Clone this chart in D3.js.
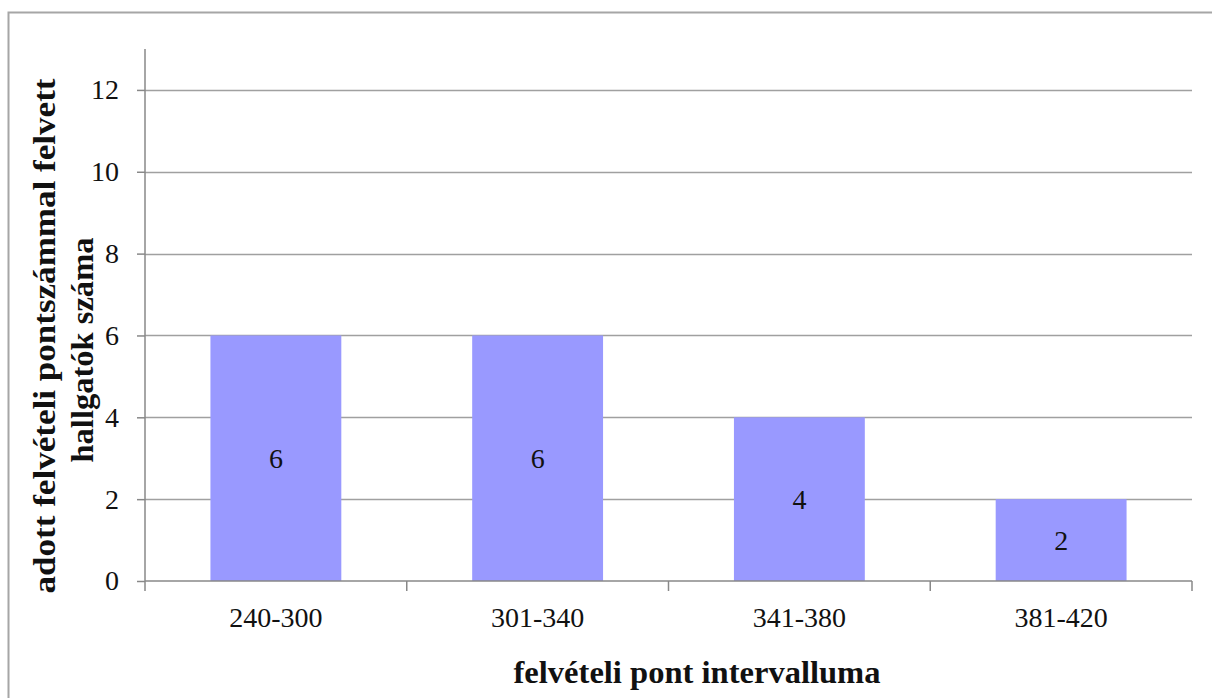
<!DOCTYPE html>
<html>
<head>
<meta charset="utf-8">
<script src="https://cdn.jsdelivr.net/npm/d3@7"></script>
<style>
  body { margin: 0; background: #fff; }
  text { font-family: "Liberation Serif", "Times New Roman", serif; }
</style>
</head>
<body>
<svg id="chart" width="1212" height="698"></svg>
<script>
// chart values
var categories = ["240-300", "301-340", "341-380", "381-420"];
var counts = [6, 6, 4, 2];
var yTicks = [0, 2, 4, 6, 8, 10, 12];
var xTitle = "felvételi pont intervalluma";
var yTitle = ["adott felvételi pontszámmal felvett", "hallgatók száma"];

var svg = d3.select("#chart");

// outer frame (right and bottom run off the picture)
svg.append("rect")
    .attr("x", 8.5).attr("y", 12.5)
    .attr("width", 1220).attr("height", 720)
    .attr("fill", "none")
    .attr("stroke", "#a6a6a6")
    .attr("stroke-width", 2);

var plotLeft = 145, plotRight = 1192, plotTop = 49, plotBottom = 581;

var x = d3.scaleBand()
    .domain(categories)
    .range([plotLeft, plotRight])
    .paddingInner(0.5)
    .paddingOuter(0.25);

var y = d3.scaleLinear()
    .domain([0, 13])
    .range([plotBottom, plotTop]);

/* gridlines */
svg.append("g").selectAll("line")
    .data(yTicks.filter(function(d) { return d > 0; }))
    .enter().append("line")
    .attr("x1", plotLeft).attr("x2", plotRight)
    .attr("y1", function(d) { return Math.round(y(d)) + 0.5; })
    .attr("y2", function(d) { return Math.round(y(d)) + 0.5; })
    .attr("stroke", "#a0a0a0")
    .attr("stroke-width", 1.5);

// bars
svg.append("g").selectAll("rect")
    .data(counts)
    .enter().append("rect")
    .attr("x", function(d, i) { return x(categories[i]); })
    .attr("y", function(d) { return y(d); })
    .attr("width", x.bandwidth())
    .attr("height", function(d) { return y(0) - y(d); })
    .attr("fill", "#9999ff");

svg.append("g").selectAll("text")
    .data(counts)
    .enter().append("text")
    .attr("x", function(d, i) { return x(categories[i]) + x.bandwidth() / 2; })
    .attr("y", function(d) { return (y(d) + y(0)) / 2; })
    .attr("dy", "0.35em")
    .attr("text-anchor", "middle")
    .attr("font-size", 28)
    .attr("fill", "#111")
    .text(function(d) { return d; });

// y axis
var yAxis = svg.append("g")
    .attr("transform", "translate(" + plotLeft + ",0)")
    .call(d3.axisLeft(y).tickValues(yTicks).tickSize(8).tickPadding(18));
yAxis.select(".domain").attr("d", "M0," + plotTop + "V" + plotBottom);

// x axis with ticks between categories
var xAxis = svg.append("g")
    .attr("transform", "translate(0," + plotBottom + ")");
xAxis.append("line")
    .attr("x1", plotLeft).attr("x2", plotRight)
    .attr("stroke", "#888").attr("stroke-width", 1.5);
xAxis.selectAll(".tk")
    .data(d3.range(categories.length + 1))
    .enter().append("line")
    .attr("x1", function(i) { return plotLeft + i * x.step(); })
    .attr("x2", function(i) { return plotLeft + i * x.step(); })
    .attr("y1", 0).attr("y2", 10)
    .attr("stroke", "#888").attr("stroke-width", 1.5);
xAxis.selectAll(".lbl")
    .data(categories)
    .enter().append("text")
    .attr("x", function(d) { return x(d) + x.bandwidth() / 2; })
    .attr("y", 46)
    .attr("text-anchor", "middle")
    .attr("font-size", 28)
    .attr("fill", "#111")
    .text(function(d) { return d; });

yAxis.select(".domain").attr("stroke", "#888").attr("stroke-width", 1.5);
yAxis.selectAll(".tick line").attr("stroke", "#888").attr("stroke-width", 1.5);
yAxis.selectAll(".tick text")
    .attr("font-size", 28)
    .attr("font-family", "Liberation Serif, serif")
    .attr("fill", "#111");

// axis titles
svg.append("text")
    .attr("x", 697).attr("y", 683)
    .attr("text-anchor", "middle")
    .attr("font-size", 32)
    .attr("font-weight", "bold")
    .attr("fill", "#111")
    .attr("textLength", 367)
    .attr("lengthAdjust", "spacingAndGlyphs")
    .text(xTitle);

var yTitleLen = [515, 225];
svg.append("g").selectAll("text")
    .data(yTitle)
    .enter().append("text")
    .attr("transform", function(d, i) {
        return "translate(" + (i === 0 ? 55 : 93) + "," + (i === 0 ? 336 : 350) + ") rotate(-90)";
    })
    .attr("text-anchor", "middle")
    .attr("font-size", 32)
    .attr("font-weight", "bold")
    .attr("fill", "#111")
    .attr("textLength", function(d, i) { return yTitleLen[i]; })
    .attr("lengthAdjust", "spacingAndGlyphs")
    .text(function(d) { return d; });
</script>
</body>
</html>
